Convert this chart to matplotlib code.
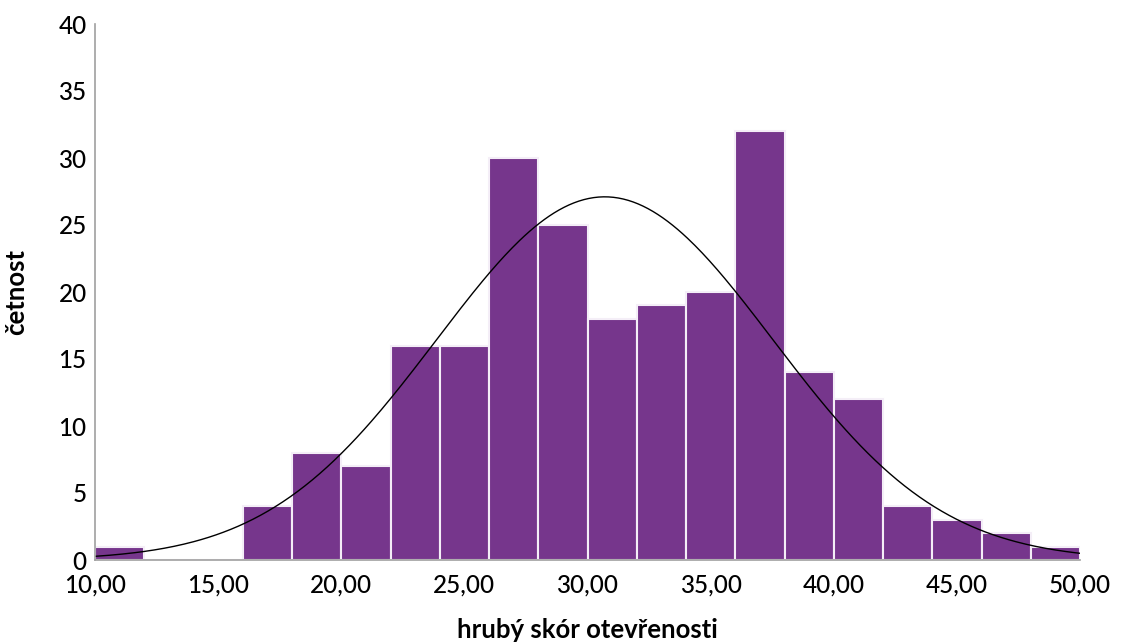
import numpy as np
import matplotlib.pyplot as plt

bin_edges = [10, 12, 14, 16, 18, 20, 22, 24, 26, 28, 30, 32, 34, 36, 38, 40, 42, 44, 46, 48, 50]
counts = [1, 0, 0, 4, 8, 7, 16, 16, 30, 25, 18, 19, 20, 32, 14, 12, 4, 3, 2, 1]
fit_mean = 30.7
fit_sd = 6.83

x_ticks = [10, 15, 20, 25, 30, 35, 40, 45, 50]
x_ticklabels = ["10,00", "15,00", "20,00", "25,00", "30,00", "35,00", "40,00", "45,00", "50,00"]
y_ticks = [0, 5, 10, 15, 20, 25, 30, 35, 40]

plt.rcParams['font.family'] = ['Lato', 'DejaVu Sans']

fig = plt.figure(figsize=(11.24, 6.44), dpi=100)
ax = fig.add_axes([95 / 1124, 84 / 644, 985 / 1124, 536 / 644])

edges = np.array(bin_edges)
widths = np.diff(edges)
ax.bar(edges[:-1], counts, width=widths, align='edge',
       color='#76368c', edgecolor='#f4eef7', linewidth=1.5)

n = sum(counts)
xs = np.linspace(10, 50, 400)
ys = n * 2 / (fit_sd * np.sqrt(2 * np.pi)) * np.exp(-0.5 * ((xs - fit_mean) / fit_sd) ** 2)
ax.plot(xs, ys, color='black', linewidth=1)

ax.set_xlim(10, 50)
ax.set_ylim(0, 40)
ax.set_xticks(x_ticks)
ax.set_xticklabels(x_ticklabels)
ax.set_yticks(y_ticks)
ax.tick_params(length=0, labelsize=17.5)
ax.tick_params(axis='x', pad=10)
ax.tick_params(axis='y', pad=6)
for lbl in ax.get_xticklabels() + ax.get_yticklabels():
    lbl.set_fontweight('medium')
for s in ['top', 'right']:
    ax.spines[s].set_visible(False)
for s in ['left', 'bottom']:
    ax.spines[s].set_color('#a0a0a0')
    ax.spines[s].set_linewidth(1.2)

ax.set_xlabel('hrubý skór otevřenosti', fontsize=18.5, fontweight='bold', labelpad=15)
ax.set_ylabel('četnost', fontsize=18.5, fontweight='bold', labelpad=22)

fig.savefig('out.png', dpi=100)
